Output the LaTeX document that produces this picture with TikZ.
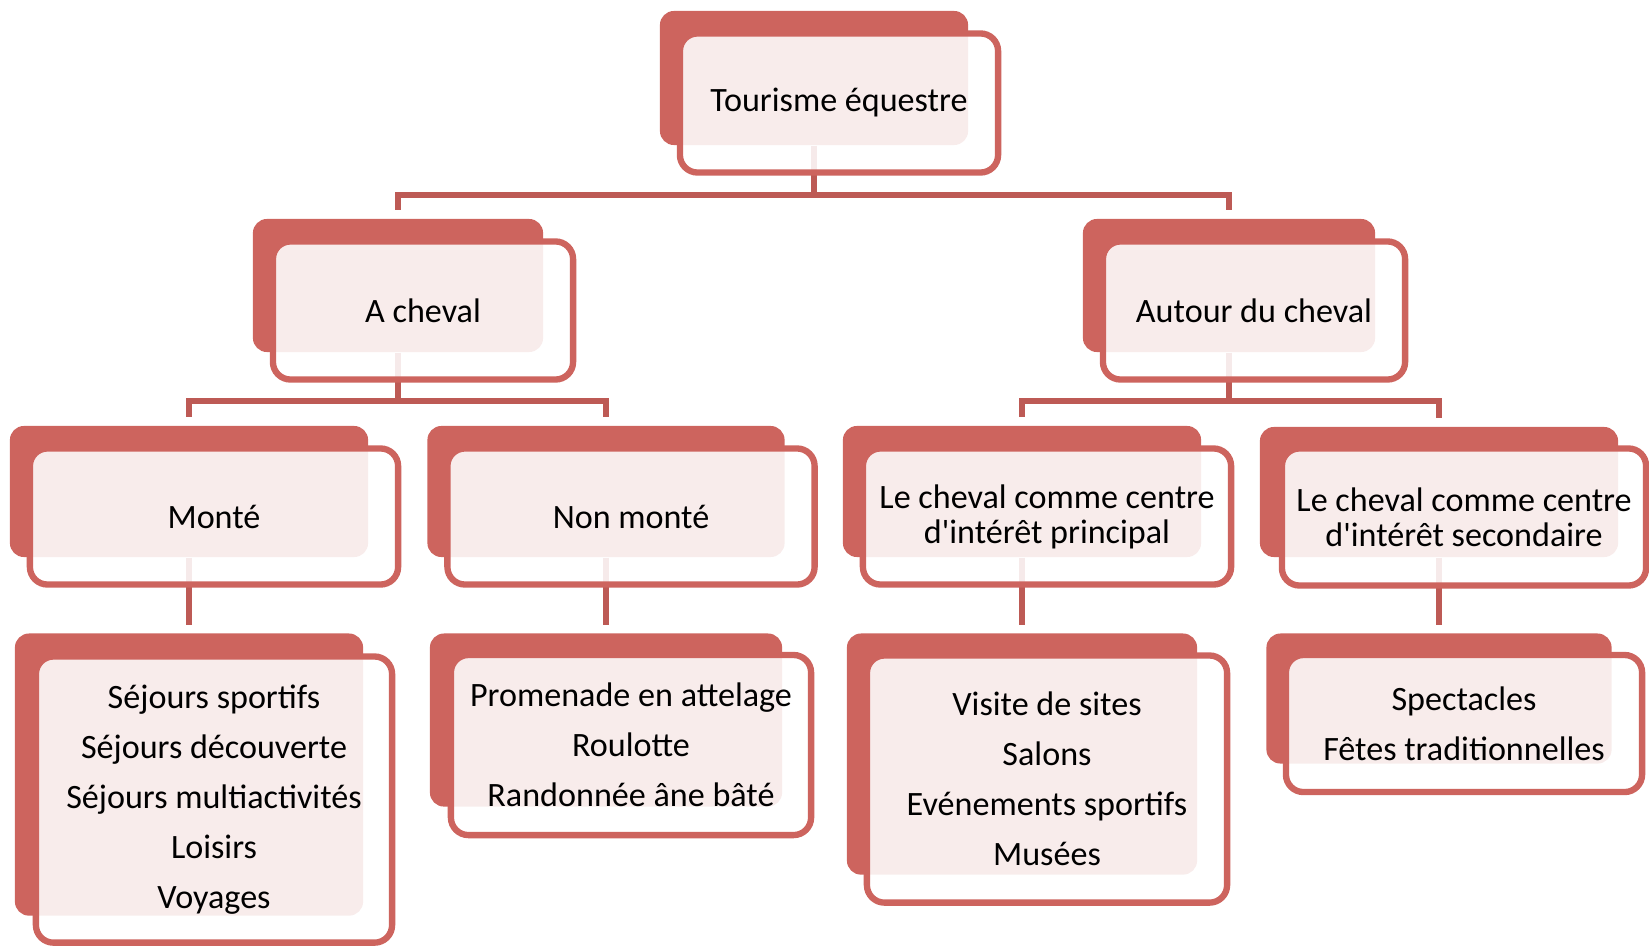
\documentclass[tikz,border=0pt]{standalone}
\usepackage{fontspec}
\setmainfont{Carlito}[Ligatures=TeXOff]
\usetikzlibrary{positioning}
\usepackage{xcolor}
\definecolor{boxRed}{HTML}{CD645E}
\definecolor{linkRed}{HTML}{BD5A55}

\begin{document}
\begin{tikzpicture}[x=0.01cm,y=-0.01cm,node distance=0.75cm]
  \tikzstyle{back}=[fill=boxRed,rounded corners=4pt,inner sep=0pt]
  \tikzstyle{front}=[draw=boxRed,line width=1.8pt,fill=white,fill opacity=0.88,text opacity=1,rounded corners=5pt,align=center,inner sep=2pt,font=\fontsize{9.7}{14.2}\selectfont]
  \tikzstyle{link}=[draw=linkRed,line width=1.8pt]
  \useasboundingbox (0,0) rectangle (1649,949);
  % back boxes
  \node[back,minimum width=3.08cm,minimum height=1.34cm] (top) at (814,78) {};
  \node[back,minimum width=2.90cm,minimum height=1.33cm] (ach) at (398,285.5) {};
  \node[back,minimum width=2.92cm,minimum height=1.33cm] (aut) at (1229,285.5) {};
  \node[back,minimum width=3.58cm,minimum height=1.31cm] (mont) at (189,491.5) {};
  \node[back,minimum width=3.57cm,minimum height=1.31cm] (nmon) at (606,491.5) {};
  \node[back,minimum width=3.58cm,minimum height=1.31cm] (princ) at (1022,491.5) {};
  \node[back,minimum width=3.58cm,minimum height=1.30cm] (second) at (1439,492) {};
  \node[back,below=of mont,minimum width=3.48cm,minimum height=2.82cm] (sej) {};
  \node[back,below=of nmon,minimum width=3.52cm,minimum height=1.73cm] (prom) {};
  \node[back,below=of princ,minimum width=3.50cm,minimum height=2.41cm] (vis) {};
  \node[back,below=of second,minimum width=3.45cm,minimum height=1.30cm] (spec) {};
  % connectors
  \coordinate (bus0) at ([yshift=-0.49cm]top.south);
  \coordinate (bus1) at ([yshift=-0.48cm]ach.south);
  \coordinate (bus2) at ([yshift=-0.48cm]aut.south);
  \draw[link] (top.south) -- (bus0);
  \draw[link,shorten >=0.08cm] (bus0) -| (ach.north);
  \draw[link,shorten >=0.08cm] (bus0) -| (aut.north);
  \draw[link] (ach.south) -- (bus1);
  \draw[link,shorten >=0.08cm] (bus1) -| (mont.north);
  \draw[link,shorten >=0.08cm] (bus1) -| (nmon.north);
  \draw[link] (aut.south) -- (bus2);
  \draw[link,shorten >=0.08cm] (bus2) -| (princ.north);
  \draw[link,shorten >=0.08cm] (bus2) -| (second.north);
  \draw[link,shorten >=0.08cm] (mont.south) -- (sej.north);
  \draw[link,shorten >=0.08cm] (nmon.south) -- (prom.north);
  \draw[link,shorten >=0.08cm] (princ.south) -- (vis.north);
  \draw[link,shorten >=0.08cm] (second.south) -- (spec.north);
  % front boxes
  \node[front,minimum width=3.18cm,minimum height=1.39cm] (top-f) at ([shift={(25,25)}]top) {Tourisme équestre};
  \node[front,minimum width=3.00cm,minimum height=1.38cm] (ach-f) at ([shift={(25,25)}]ach) {A cheval};
  \node[front,minimum width=3.02cm,minimum height=1.38cm] (aut-f) at ([shift={(25,25)}]aut) {Autour du cheval};
  \node[front,minimum width=3.68cm,minimum height=1.36cm] (mont-f) at ([shift={(25,25)}]mont) {Monté};
  \node[front,minimum width=3.67cm,minimum height=1.36cm] (nmon-f) at ([shift={(25,25)}]nmon) {Non monté};
  \node[front,minimum width=3.68cm,minimum height=1.36cm,font=\fontsize{9.7}{10}\selectfont] (princ-f) at ([shift={(25,25)}]princ) {Le cheval comme centre\\d'intérêt principal};
  \node[front,minimum width=3.64cm,minimum height=1.37cm,font=\fontsize{9.7}{10}\selectfont] (second-f) at ([shift={(25,25)}]second) {Le cheval comme centre\\d'intérêt secondaire};
  \node[front,minimum width=3.56cm,minimum height=2.86cm] (sej-f) at ([shift={(25,25)}]sej) {Séjours sportifs\\Séjours découverte\\Séjours multiactivités\\Loisirs\\Voyages};
  \node[front,minimum width=3.60cm,minimum height=1.80cm] (prom-f) at ([shift={(25,25)}]prom) {Promenade en attelage\\Roulotte\\Randonnée âne bâté};
  \node[front,minimum width=3.60cm,minimum height=2.47cm] (vis-f) at ([shift={(25,25)}]vis) {Visite de sites\\Salons\\Evénements sportifs\\Musées};
  \node[front,minimum width=3.56cm,minimum height=1.37cm] (spec-f) at ([shift={(25,25)}]spec) {Spectacles\\Fêtes traditionnelles};
\end{tikzpicture}
\end{document}
